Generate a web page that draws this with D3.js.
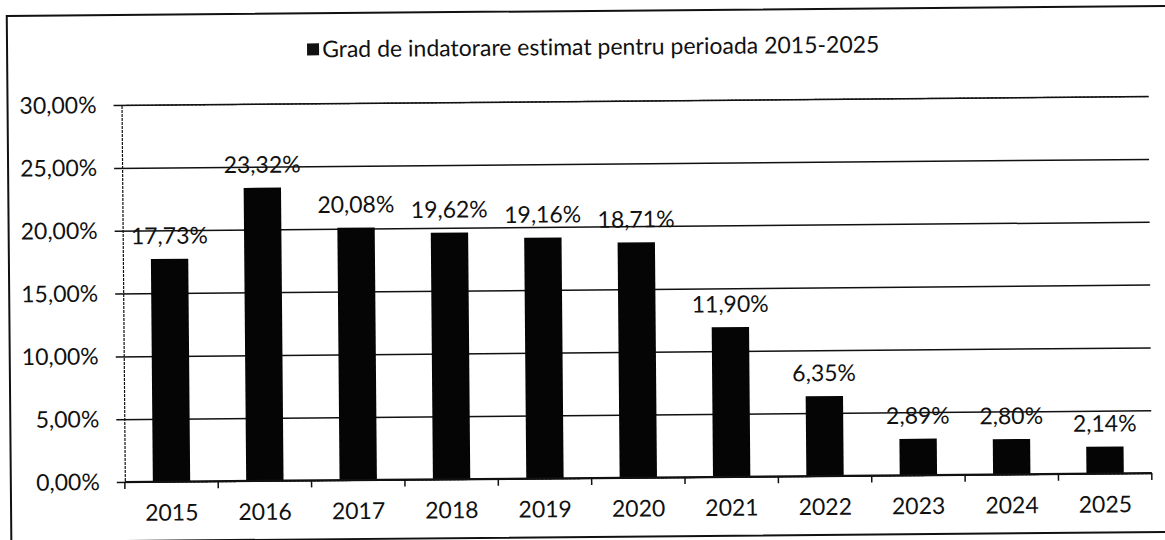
<!DOCTYPE html>
<html>
<head>
<meta charset="utf-8">
<script src="https://cdn.jsdelivr.net/npm/d3@7/dist/d3.min.js"></script>
<style>
  html, body { margin: 0; padding: 0; background: #fff; }
  svg { display: block; }
  text { font-family: Lato, "Open Sans", sans-serif; fill: #111; font-variant-ligatures: none; }
</style>
</head>
<body>
<svg id="chart" width="1165" height="540"></svg>
<script>
// Estimated debt ratio, 2015-2025
const years = ["2015", "2016", "2017", "2018", "2019", "2020", "2021", "2022", "2023", "2024", "2025"];
const debtRatio = [17.73, 23.32, 20.08, 19.62, 19.16, 18.71, 11.90, 6.35, 2.89, 2.80, 2.14];
const yTicks = [0, 5, 10, 15, 20, 25, 30];
const legendLabel = "Grad de indatorare estimat pentru perioada 2015-2025";

const W = 1165, H = 540;
const margin = { left: 123, right: 15, top: 101, bottom: 62 };
const fmt = v => v.toFixed(2).replace(".", ",") + "%";
const FS = "23px";

const svg = d3.select("#chart");
// the scanned page sits slightly tilted
const root = svg.append("g").attr("transform", `rotate(-0.5 ${W / 2} ${H / 2})`);

// outer frame
root.append("rect")
  .attr("x", 9).attr("y", 11)
  .attr("width", W + 20).attr("height", 526)
  .attr("fill", "none").attr("stroke", "#111").attr("stroke-width", 2);

const x = d3.scaleBand().domain(years)
  .range([margin.left, W - margin.right])
  .paddingInner(0.6).paddingOuter(0.3);
const y = d3.scaleLinear().domain([0, 30]).range([H - margin.bottom, margin.top]);

// horizontal gridlines with left ticks
const yAxis = d3.axisLeft(y).tickValues(yTicks).tickFormat(fmt)
  .tickSize(-(W - margin.right - margin.left)).tickPadding(25);
const gy = root.append("g").attr("transform", `translate(${margin.left},0)`).call(yAxis);
gy.select(".domain").attr("stroke", "#111").attr("stroke-width", 1.2).attr("stroke-dasharray", "3,1");
gy.selectAll(".tick line").attr("stroke", "#111").attr("stroke-width", 1.5).attr("x1", -8);
gy.selectAll(".tick text").style("font-size", FS).attr("fill", "#111");

// bars
root.append("g").selectAll("rect")
  .data(years.map((yr, i) => ({ yr, v: debtRatio[i] })))
  .join("rect")
  .attr("x", d => x(d.yr))
  .attr("y", d => y(d.v))
  .attr("width", x.bandwidth())
  .attr("height", d => y(0) - y(d.v))
  .attr("fill", "#050505");

// x axis with ticks between categories
const boundaries = d3.range(years.length + 1).map(i => margin.left + i * (W - margin.right - margin.left) / years.length);
const gx = root.append("g").attr("transform", `translate(0,${y(0)})`);
gx.append("line").attr("x1", margin.left).attr("x2", W - margin.right)
  .attr("stroke", "#111").attr("stroke-width", 2);
gx.selectAll(".bt").data(boundaries).join("line")
  .attr("x1", d => d).attr("x2", d => d).attr("y1", 0).attr("y2", 7)
  .attr("stroke", "#111").attr("stroke-width", 1.5);
gx.selectAll(".cat").data(years).join("text")
  .attr("x", d => x(d) + x.bandwidth() / 2)
  .attr("y", 39)
  .attr("text-anchor", "middle")
  .style("font-size", FS)
  .text(d => d);

// value labels
root.append("g").selectAll("text")
  .data(years.map((yr, i) => ({ yr, v: debtRatio[i] })))
  .join("text")
  .attr("x", d => x(d.yr) + x.bandwidth() / 2)
  .attr("y", d => y(d.v) - 15)
  .attr("text-anchor", "middle")
  .style("font-size", FS)
  .text(d => fmt(d.v));

// legend
const lg = root.append("g").attr("transform", "translate(309,47)");
lg.append("rect").attr("x", 0).attr("y", -6).attr("width", 12).attr("height", 12).attr("fill", "#111");
lg.append("text").attr("x", 15).attr("y", 8).style("font-size", FS).text(legendLabel);
</script>
</body>
</html>
